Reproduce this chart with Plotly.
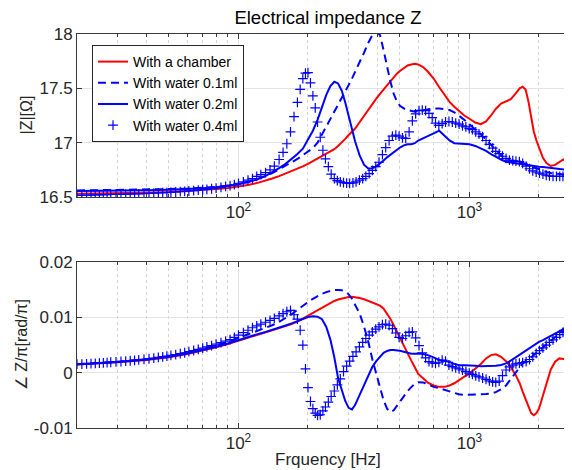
import math
import plotly.graph_objects as go

# ---------------- data ----------------
freq_line = [20, 25, 30, 40, 50, 60, 70, 80, 90, 100,
             110, 120, 130, 140, 150, 160, 170, 180, 190, 200,
             210, 220, 230, 240, 250, 260, 270, 280, 290, 300,
             310, 320, 335, 350, 365, 380, 395, 410, 425, 440,
             455, 470, 485, 500, 520, 540, 560, 580, 600, 630,
             660, 700, 740, 780, 820, 860, 900, 950, 1000, 1060,
             1120, 1180, 1240, 1300, 1370, 1440, 1510, 1580, 1650, 1700,
             1750, 1800, 1850, 1900, 1950, 2000, 2080, 2160, 2250, 2350,
             2450, 2550, 2650, 2750, 2850, 3000]

z_chamber = [16.530, 16.532, 16.535, 16.540, 16.547, 16.555, 16.563, 16.573, 16.583, 16.595,
             16.610, 16.628, 16.648, 16.670, 16.692, 16.715, 16.738, 16.760, 16.782, 16.805,
             16.830, 16.855, 16.875, 16.895, 16.915, 16.940, 16.970, 17.000, 17.035, 17.070,
             17.100, 17.130, 17.190, 17.250, 17.305, 17.355, 17.405, 17.450, 17.490, 17.530,
             17.570, 17.605, 17.635, 17.660, 17.690, 17.710, 17.720, 17.725, 17.720, 17.695,
             17.655, 17.590, 17.510, 17.440, 17.375, 17.330, 17.290, 17.250, 17.220, 17.185,
             17.170, 17.195, 17.250, 17.310, 17.360, 17.380, 17.400, 17.450, 17.500, 17.515,
             17.490, 17.380, 17.220, 17.100, 17.020, 16.950, 16.860, 16.810, 16.785, 16.795,
             16.820, 16.845, 16.820, 16.770, 16.750, 16.740]

z_water01 = [16.560, 16.562, 16.564, 16.568, 16.573, 16.578, 16.585, 16.593, 16.604, 16.618,
             16.638, 16.662, 16.690, 16.720, 16.755, 16.785, 16.815, 16.850, 16.885, 16.915,
             16.950, 17.000, 17.075, 17.140, 17.210, 17.280, 17.340, 17.400, 17.460, 17.530,
             17.590, 17.650, 17.740, 17.830, 17.920, 17.990, 18.020, 17.990, 17.850, 17.700,
             17.560, 17.450, 17.380, 17.340, 17.315, 17.300, 17.290, 17.285, 17.290, 17.300,
             17.310, 17.315, 17.315, 17.310, 17.300, 17.280, 17.250, 17.210, 17.170, 17.120,
             17.080, 17.030, 16.980, 16.930, 16.885, 16.850, 16.830, 16.825, 16.820, 16.815,
             16.800, 16.790, 16.780, 16.770, 16.760, 16.750, 16.740, 16.730, 16.720, 16.715,
             16.710, 16.705, 16.700, 16.700, 16.700, 16.700]

z_water02 = [16.555, 16.556, 16.558, 16.562, 16.567, 16.573, 16.580, 16.590, 16.602, 16.618,
             16.638, 16.660, 16.690, 16.725, 16.765, 16.805, 16.850, 16.895, 16.945, 17.030,
             17.110, 17.210, 17.330, 17.440, 17.520, 17.560, 17.545, 17.480, 17.370, 17.240,
             17.120, 17.010, 16.880, 16.795, 16.762, 16.765, 16.782, 16.805, 16.835, 16.865,
             16.890, 16.915, 16.935, 16.955, 16.975, 16.985, 16.985, 16.995, 17.020, 17.040,
             17.055, 17.085, 17.110, 17.065, 17.020, 16.995, 16.990, 16.990, 16.985, 16.970,
             16.950, 16.925, 16.895, 16.870, 16.845, 16.825, 16.815, 16.810, 16.805, 16.800,
             16.795, 16.790, 16.785, 16.780, 16.780, 16.778, 16.775, 16.770, 16.765, 16.760,
             16.757, 16.753, 16.750, 16.745, 16.742, 16.740]

ph_chamber = [0.00150, 0.00170, 0.00190, 0.00230, 0.00280, 0.00340, 0.00400, 0.00460, 0.00520, 0.00580,
              0.00630, 0.00675, 0.00720, 0.00760, 0.00800, 0.00840, 0.00880, 0.00925, 0.00980, 0.01040,
              0.01090, 0.01140, 0.01185, 0.01230, 0.01265, 0.01300, 0.01325, 0.01345, 0.01362, 0.01372,
              0.01375, 0.01370, 0.01355, 0.01330, 0.01300, 0.01275, 0.01250, 0.01215, 0.01160, 0.01075,
              0.00975, 0.00860, 0.00740, 0.00640, 0.00500, 0.00360, 0.00220, 0.00100, -0.00020, -0.00100,
              -0.00180, -0.00230, -0.00255, -0.00255, -0.00230, -0.00190, -0.00130, -0.00070, -0.00015, 0.00070,
              0.00160, 0.00260, 0.00320, 0.00335, 0.00290, 0.00210, 0.00100, -0.00030, -0.00190, -0.00340,
              -0.00480, -0.00630, -0.00730, -0.00770, -0.00730, -0.00650, -0.00420, -0.00170, 0.00060, 0.00200,
              0.00260, 0.00250, 0.00230, 0.00260, 0.00260, 0.00250]

ph_water01 = [0.00155, 0.00175, 0.00200, 0.00245, 0.00300, 0.00365, 0.00430, 0.00495, 0.00560, 0.00630,
              0.00690, 0.00750, 0.00805, 0.00860, 0.00920, 0.00990, 0.01060, 0.01140, 0.01220, 0.01280,
              0.01340, 0.01390, 0.01430, 0.01460, 0.01485, 0.01500, 0.01500, 0.01495, 0.01470, 0.01420,
              0.01340, 0.01240, 0.01070, 0.00830, 0.00560, 0.00240, -0.00020, -0.00240, -0.00500, -0.00650,
              -0.00710, -0.00680, -0.00600, -0.00530, -0.00430, -0.00330, -0.00260, -0.00200, -0.00170, -0.00175,
              -0.00210, -0.00255, -0.00280, -0.00310, -0.00350, -0.00375, -0.00390, -0.00400, -0.00400, -0.00400,
              -0.00390, -0.00385, -0.00375, -0.00350, -0.00300, -0.00230, -0.00110, 0.00000, 0.00107, 0.00170,
              0.00210, 0.00240, 0.00280, 0.00320, 0.00360, 0.00400, 0.00460, 0.00520, 0.00590, 0.00650,
              0.00710, 0.00760, 0.00820, 0.00890, 0.00950, 0.01030]

ph_water02 = [0.00155, 0.00175, 0.00195, 0.00240, 0.00290, 0.00350, 0.00410, 0.00470, 0.00530, 0.00595,
              0.00645, 0.00695, 0.00735, 0.00775, 0.00815, 0.00855, 0.00895, 0.00940, 0.00980, 0.01010,
              0.01025, 0.01015, 0.00970, 0.00830, 0.00600, 0.00280, -0.00100, -0.00320, -0.00510, -0.00635,
              -0.00665, -0.00580, -0.00400, -0.00205, -0.00040, 0.00107, 0.00210, 0.00295, 0.00360, 0.00395,
              0.00410, 0.00410, 0.00405, 0.00400, 0.00380, 0.00355, 0.00345, 0.00345, 0.00350, 0.00340,
              0.00320, 0.00280, 0.00230, 0.00215, 0.00195, 0.00160, 0.00135, 0.00135, 0.00135, 0.00125,
              0.00120, 0.00120, 0.00120, 0.00125, 0.00140, 0.00170, 0.00220, 0.00275, 0.00330, 0.00370,
              0.00410, 0.00445, 0.00480, 0.00510, 0.00535, 0.00560, 0.00590, 0.00625, 0.00660, 0.00700,
              0.00740, 0.00790, 0.00850, 0.00920, 0.00980, 0.01050]

freq_marker = [20, 21, 22, 23, 24, 25, 26, 27, 28, 29.5,
               31, 32.5, 34, 35.5, 37, 39, 41, 43, 45, 47,
               49, 51, 53.5, 56, 58.5, 61, 64, 67, 70, 73,
               76.5, 80, 84, 88, 92, 96, 100, 105, 110, 115,
               120, 125, 131, 137, 143, 150, 156, 162, 168, 174,
               180, 185, 190, 195, 200, 205, 210, 215, 220, 226,
               232, 238, 245, 252, 260, 268, 276, 285, 294, 303,
               313, 323, 334, 345, 356, 368, 380, 393, 406, 420,
               434, 449, 464, 480, 496, 513, 530, 548, 566, 585,
               605, 625, 646, 668, 690, 713, 737, 762, 788, 815,
               843, 872, 902, 933, 965, 998, 1030, 1065, 1100, 1140,
               1180, 1220, 1260, 1300, 1345, 1390, 1440, 1490, 1540, 1590,
               1645, 1700, 1760, 1820, 1880, 1945, 2010, 2080, 2150, 2220,
               2300, 2380, 2460, 2540, 2630, 2720, 2810, 2900, 3000]

z_water04 = [16.515, 16.516, 16.517, 16.518, 16.519, 16.520, 16.521, 16.522, 16.523, 16.524,
             16.525, 16.526, 16.527, 16.528, 16.529, 16.531, 16.533, 16.535, 16.537, 16.539,
             16.541, 16.543, 16.546, 16.549, 16.552, 16.555, 16.559, 16.563, 16.567, 16.571,
             16.576, 16.582, 16.589, 16.597, 16.605, 16.614, 16.625, 16.640, 16.655, 16.670,
             16.690, 16.705, 16.725, 16.750, 16.785, 16.845, 16.910, 16.990, 17.100, 17.240,
             17.370, 17.490, 17.590, 17.640, 17.645, 17.550, 17.430, 17.320, 17.190, 17.050,
             16.930, 16.850, 16.780, 16.710, 16.670, 16.650, 16.640, 16.632, 16.627, 16.625,
             16.630, 16.640, 16.655, 16.670, 16.690, 16.715, 16.745, 16.780, 16.820, 16.890,
             16.955, 17.020, 17.060, 17.070, 17.060, 17.045, 17.040, 17.100, 17.200, 17.265,
             17.295, 17.300, 17.295, 17.270, 17.230, 17.180, 17.160, 17.175, 17.190, 17.195,
             17.190, 17.180, 17.170, 17.155, 17.145, 17.130, 17.120, 17.100, 17.080, 17.055,
             17.020, 16.985, 16.950, 16.920, 16.900, 16.875, 16.855, 16.840, 16.835, 16.830,
             16.825, 16.810, 16.785, 16.760, 16.740, 16.730, 16.720, 16.710, 16.700, 16.695,
             16.690, 16.690, 16.690, 16.690, 16.690, 16.690, 16.690, 16.690, 16.690]

ph_water04 = [0.00155, 0.00158, 0.00162, 0.00166, 0.00170, 0.00175, 0.00180, 0.00185, 0.00190, 0.00197,
              0.00204, 0.00211, 0.00218, 0.00225, 0.00233, 0.00243, 0.00254, 0.00265, 0.00277, 0.00289,
              0.00301, 0.00314, 0.00330, 0.00346, 0.00362, 0.00382, 0.00403, 0.00424, 0.00446, 0.00467,
              0.00492, 0.00517, 0.00545, 0.00573, 0.00601, 0.00640, 0.00680, 0.00725, 0.00770, 0.00815,
              0.00850, 0.00880, 0.00915, 0.00950, 0.00985, 0.01030, 0.01070, 0.01105, 0.01130, 0.01050,
              0.00970, 0.00770, 0.00500, 0.00070, -0.00270, -0.00520, -0.00650, -0.00730, -0.00770, -0.00760,
              -0.00690, -0.00620, -0.00530, -0.00430, -0.00330, -0.00220, -0.00110, 0.00020, 0.00120, 0.00210,
              0.00295, 0.00380, 0.00470, 0.00550, 0.00620, 0.00680, 0.00740, 0.00790, 0.00830, 0.00870,
              0.00880, 0.00860, 0.00800, 0.00720, 0.00640, 0.00620, 0.00670, 0.00730, 0.00740, 0.00630,
              0.00490, 0.00360, 0.00270, 0.00200, 0.00180, 0.00170, 0.00190, 0.00230, 0.00210, 0.00140,
              0.00110, 0.00090, 0.00070, 0.00050, 0.00020, -0.00005, -0.00030, -0.00055, -0.00075, -0.00095,
              -0.00120, -0.00145, -0.00165, -0.00175, -0.00150, -0.00050, 0.00050, 0.00105, 0.00140, 0.00160,
              0.00175, 0.00185, 0.00200, 0.00240, 0.00290, 0.00350, 0.00400, 0.00450, 0.00500, 0.00550,
              0.00595, 0.00640, 0.00690, 0.00730, 0.00780, 0.00850, 0.00900, 0.00950, 0.01010]

series_names = ["With a chamber", "With water 0.1ml", "With water 0.2ml", "With water 0.4ml"]
x_tick_values = [100, 1000]
x_tick_labels = ["10<sup>2</sup>", "10<sup>3</sup>"]
z_tick_values = [16.5, 17, 17.5, 18]
z_tick_labels = ["16.5", "17", "17.5", "18"]
ph_tick_values = [-0.01, 0, 0.01, 0.02]
ph_tick_labels = ["-0.01", "0", "0.01", "0.02"]
minor_x_values = [20, 30, 40, 50, 60, 70, 80, 90, 200, 300, 400, 500, 600, 700, 800, 900, 2000, 3000]

for arr in (z_chamber, z_water01, z_water02, ph_chamber, ph_water01, ph_water02):
    assert len(arr) == len(freq_line), len(arr)
for arr in (z_water04, ph_water04):
    assert len(arr) == len(freq_marker), len(arr)

# ---------------- styling ----------------
RED = "#ff0000"
BLUE = "#0000ff"
FONT = "Liberation Sans, Arial, Helvetica, sans-serif"
AXC = "#3a3a3a"
GRID = "#e3e3e3"
MGRID = "#d4d4d4"

# the page body adds an 8px margin; the figure is laid out in page pixels minus that offset
OFF = 8
W, H = 572 - OFF, 470 - OFF
ML, MR, MT = 77 - OFF, 0, 34 - OFF
AX_BOTTOM = 428 - OFF
MB = H - AX_BOTTOM
PW, PH = W - ML - MR, H - MT - MB

def ydom(top_page, bot_page):
    t, b = top_page - OFF, bot_page - OFF
    return [(AX_BOTTOM - b) / PH, (AX_BOTTOM - t) / PH]

fig = go.Figure()

styles = [
    dict(mode="lines", line=dict(color=RED, width=2)),
    dict(mode="lines", line=dict(color=BLUE, width=2, dash="8px,5px")),
    dict(mode="lines", line=dict(color=BLUE, width=2)),
    dict(mode="markers", marker=dict(symbol="cross-thin", size=7,
                                     line=dict(color=BLUE, width=1.2), color=BLUE)),
]
top_data = [(freq_line, z_chamber), (freq_line, z_water01), (freq_line, z_water02), (freq_marker, z_water04)]
bot_data = [(freq_line, ph_chamber), (freq_line, ph_water01), (freq_line, ph_water02), (freq_marker, ph_water04)]

for i, name in enumerate(series_names):
    fx, fy = top_data[i]
    fig.add_trace(go.Scatter(x=fx, y=fy, name=name, legendgroup=name, xaxis="x", yaxis="y",
                             showlegend=True, **styles[i]))
for i, name in enumerate(series_names):
    fx, fy = bot_data[i]
    fig.add_trace(go.Scatter(x=fx, y=fy, name=name, legendgroup=name, xaxis="x2", yaxis="y2",
                             showlegend=False, **styles[i]))

xcommon = dict(type="log", range=[math.log10(20), 3.444], domain=[0, 1],
               showline=True, linecolor=AXC, linewidth=1, mirror="ticks",
               ticks="inside", ticklen=5, tickcolor=AXC, tickwidth=1,
               tickmode="array", tickvals=x_tick_values, ticktext=x_tick_labels,
               showgrid=True, gridcolor=GRID, gridwidth=1, zeroline=False,
               tickfont=dict(size=17, color="#262626", family=FONT),
               minor=dict(tickmode="array", tickvals=minor_x_values, ticks="inside", ticklen=3,
                          tickcolor=AXC, showgrid=True, gridcolor=MGRID, griddash="dot", gridwidth=1))
ycommon = dict(showline=True, linecolor=AXC, linewidth=1, mirror="ticks",
               ticks="inside", ticklen=5, tickcolor=AXC, tickwidth=1,
               showgrid=True, gridcolor=GRID, gridwidth=1, zeroline=False,
               tickmode="array", tickfont=dict(size=17, color="#262626", family=FONT))

def px_x(page_x):
    return (page_x - OFF - ML) / PW

def px_y(page_y):
    return (AX_BOTTOM - (page_y - OFF)) / PH

fig.update_layout(
    width=W, height=H, template="none",
    margin=dict(l=ML, r=MR, t=MT, b=MB, pad=0),
    paper_bgcolor="white", plot_bgcolor="white",
    font=dict(family=FONT, color="#262626"),
    xaxis=dict(anchor="y", **xcommon),
    xaxis2=dict(anchor="y2", **xcommon),
    yaxis=dict(anchor="x", domain=ydom(34, 197), range=[16.5, 18],
               tickvals=z_tick_values, ticktext=z_tick_labels, **ycommon),
    yaxis2=dict(anchor="x2", domain=ydom(262.3, 428), range=[-0.01, 0.02],
                tickvals=ph_tick_values, ticktext=ph_tick_labels, **ycommon),
    title=dict(text="Electrical impedance Z", xref="paper", x=px_x(328), xanchor="center",
               yref="container", y=1 - (18 - OFF) / H, yanchor="middle",
               font=dict(size=18.5, color="#000000", family=FONT)),
    legend=dict(x=px_x(92), y=px_y(45), xanchor="left", yanchor="top",
                bgcolor="white", bordercolor="#262626", borderwidth=1,
                font=dict(size=14, color="#000000", family=FONT), itemwidth=30,
                tracegroupgap=0),
    showlegend=True,
    annotations=[
        dict(text="|Z|[Ω]", xref="paper", yref="paper", x=0, xshift=-(77 - 26),
             y=sum(ydom(34, 197)) / 2, textangle=-90, showarrow=False,
             xanchor="center", yanchor="middle", font=dict(size=16, color="#262626", family=FONT)),
        dict(text="∠ Z/π[rad/π]", xref="paper", yref="paper", x=0, xshift=-(77 - 21),
             y=sum(ydom(262.3, 428)) / 2, textangle=-90, showarrow=False,
             xanchor="center", yanchor="middle", font=dict(size=16, color="#262626", family=FONT)),
        dict(text="Frquency [Hz]", xref="paper", yref="paper", x=px_x(328), y=0, yshift=-31,
             showarrow=False, xanchor="center", yanchor="middle",
             font=dict(size=17, color="#262626", family=FONT)),
    ],
)

fig.write_html("out.html")
